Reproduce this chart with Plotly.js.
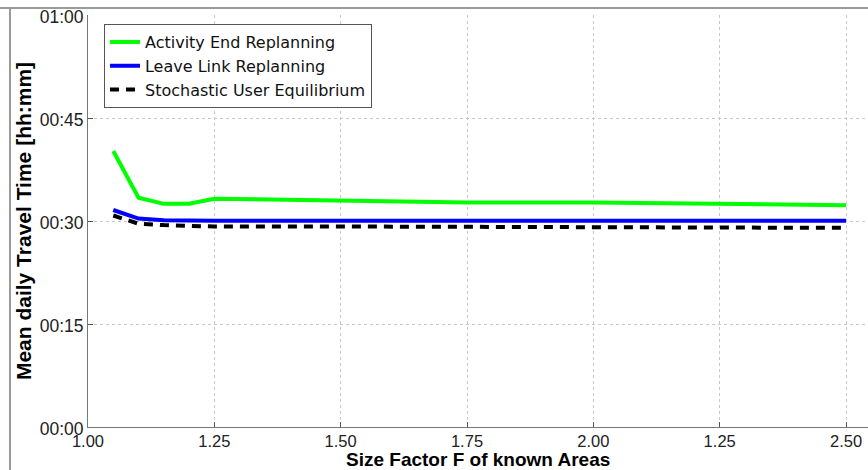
<!DOCTYPE html>
<html>
<head>
<meta charset="utf-8">
<script src="https://cdn.plot.ly/plotly-3.0.1.min.js"></script>
<style>
html,body{margin:0;padding:0;background:#fff;}
#wrap{position:relative;width:868px;height:470px;overflow:hidden;}
#chart{width:868px;height:470px;}
.fr{position:absolute;background:#9a9a9a;}
</style>
</head>
<body>
<div id="wrap">
<div id="chart"></div>
<div class="fr" style="left:0;top:7px;width:868px;height:2px;"></div>
<div class="fr" style="left:9px;top:7px;width:2px;height:463px;"></div>
</div>
<script>
const sizeFactor = [1.05, 1.10, 1.15, 1.20, 1.25, 1.50, 1.75, 2.00, 2.25, 2.50];
const activityEnd = [40.2, 33.4, 32.5, 32.5, 33.25, 33.0, 32.7, 32.7, 32.5, 32.3];
const leaveLink = [31.6, 30.35, 30.1, 30.05, 30.05, 30.05, 30.05, 30.05, 30.05, 30.05];
const sue = [30.8, 29.6, 29.4, 29.3, 29.2, 29.2, 29.15, 29.1, 29.05, 29.0];
const xTickVals = [1.00, 1.25, 1.50, 1.75, 2.00, 2.25, 2.50];
const xTickText = ['1.00', '1.25', '1.50', '1.75', '2.00', '1.25', '2.50'];
const yTickVals = [0, 15, 30, 45, 60];
const yTickText = ['00:00', '00:15', '00:30', '00:45', '01:00'];

const traces = [
  {x: sizeFactor, y: activityEnd, name: 'Activity End Replanning', mode: 'lines',
   line: {color: '#00ff00', width: 4}},
  {x: sizeFactor, y: leaveLink, name: 'Leave Link Replanning', mode: 'lines',
   line: {color: '#0000ff', width: 4}},
  {x: sizeFactor, y: sue, name: 'Stochastic User Equilibrium', mode: 'lines',
   line: {color: '#000000', width: 4, dash: '9px,7px'}}
];

const layout = {
  width: 868, height: 470,
  margin: {l: 88, r: 0, t: 15, b: 43},
  paper_bgcolor: '#ffffff', plot_bgcolor: '#ffffff',
  font: {family: 'Liberation Sans, Arial, sans-serif', color: '#222', size: 17},
  showlegend: true,
  legend: {x: 0.0205, y: 0.978, xanchor: 'left', yanchor: 'top',
    bordercolor: '#555', borderwidth: 1, bgcolor: '#fff',
    font: {family: 'DejaVu Sans, sans-serif', size: 16, color: '#111'}},
  xaxis: {range: [1.0, 2.5435], tickvals: xTickVals, ticktext: xTickText,
    showgrid: true, gridcolor: '#c8c8c8', griddash: 'dot', gridwidth: 1,
    zeroline: false, showline: true, linecolor: '#777', linewidth: 1,
    ticks: 'inside', ticklen: 5, tickcolor: '#555', ticklabelstandoff: -1,
    tickfont: {size: 16.5, color: '#222'}},
  yaxis: {range: [0, 60], tickvals: yTickVals, ticktext: yTickText,
    showgrid: true, gridcolor: '#c8c8c8', griddash: 'dot', gridwidth: 1,
    zeroline: false, showline: true, linecolor: '#777', linewidth: 1,
    ticks: 'inside', ticklen: 5, tickcolor: '#555', ticklabelshift: 2,
    tickfont: {size: 17.5, color: '#222'},
    title: {text: '<b>Mean daily Travel Time [hh:mm]</b>', standoff: 2,
      font: {size: 21, color: '#000'}}},
  annotations: [{
    text: '<b>Size Factor F of known Areas</b>', xref: 'paper', yref: 'paper',
    x: 0.5, y: -0.078, xanchor: 'center', yanchor: 'middle', showarrow: false,
    borderpad: 0, font: {size: 19, color: '#000'}
  }]
};

Plotly.newPlot('chart', traces, layout, {displayModeBar: false, staticPlot: true});
</script>
</body>
</html>
